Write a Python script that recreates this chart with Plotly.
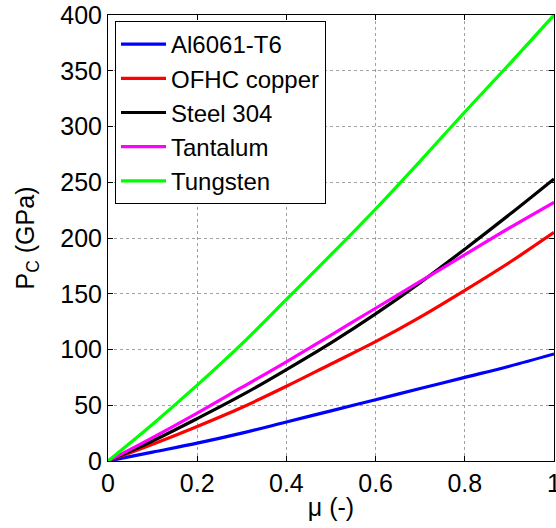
import plotly.graph_objects as go

mu = [0.0, 0.1, 0.2, 0.3, 0.4, 0.5, 0.6, 0.7, 0.8, 0.9, 1.0]
al6061 = [0, 8, 16, 25, 35, 45, 55, 65, 75, 85, 96]
ofhc_copper = [0, 15, 31, 48, 67, 87, 107, 129, 153, 178, 205]
steel304 = [0, 18, 38, 59, 82, 106, 132, 160, 190, 221, 253]
tantalum = [0, 21, 43, 66, 89, 113, 137, 161, 185, 209, 232]
tungsten = [0, 33, 68, 105, 145, 185, 226, 269, 313, 356, 400]

series = [
    ("Al6061-T6", al6061, "#0000FF"),
    ("OFHC copper", ofhc_copper, "#FF0000"),
    ("Steel 304", steel304, "#000000"),
    ("Tantalum", tantalum, "#FF00FF"),
    ("Tungsten", tungsten, "#00FF00"),
]

fig = go.Figure()
for name, vals, color in series:
    fig.add_trace(go.Scatter(x=mu, y=vals, mode="lines", name=name,
                             line=dict(color=color, width=3.2, shape="spline",
                                       smoothing=1.0),
                             cliponaxis=False))

font = "Arial, Liberation Sans, sans-serif"
axis_common = dict(
    showline=True, linecolor="black", linewidth=1, mirror="ticks",
    ticks="inside", ticklen=5, tickcolor="black",
    showgrid=True, gridcolor="#a0a0a0", gridwidth=1, griddash="dot",
    zeroline=False, tickfont=dict(size=25, color="black", family=font),
    automargin=False, ticklabeloverflow="allow",
)

fig.update_layout(
    width=556, height=528,
    margin=dict(l=108, r=2, t=15, b=67),
    paper_bgcolor="white", plot_bgcolor="white",
    font=dict(family=font, color="black", size=25),
    xaxis=dict(range=[0, 1], tickvals=[0, 0.2, 0.4, 0.6, 0.8, 1],
               ticktext=["0", "0.2", "0.4", "0.6", "0.8", "1"],
               title=dict(text="μ (-)", font=dict(size=25), standoff=2),
               **axis_common),
    yaxis=dict(range=[0, 400], tickvals=list(range(0, 401, 50)),
               title=dict(text="P<sub>C</sub> (GPa)", font=dict(size=25), standoff=18),
               **axis_common),
    legend=dict(x=0.0157, y=0.9865, xanchor="left", yanchor="top",
                bgcolor="white", bordercolor="black", borderwidth=1,
                font=dict(size=24, family=font), itemwidth=45,
                tracegroupgap=0),
    showlegend=True,
)

fig.write_html("out.html",
               config={"displayModeBar": False},
               post_script="document.body.style.margin='0';"
                           "document.body.style.overflow='hidden';")
